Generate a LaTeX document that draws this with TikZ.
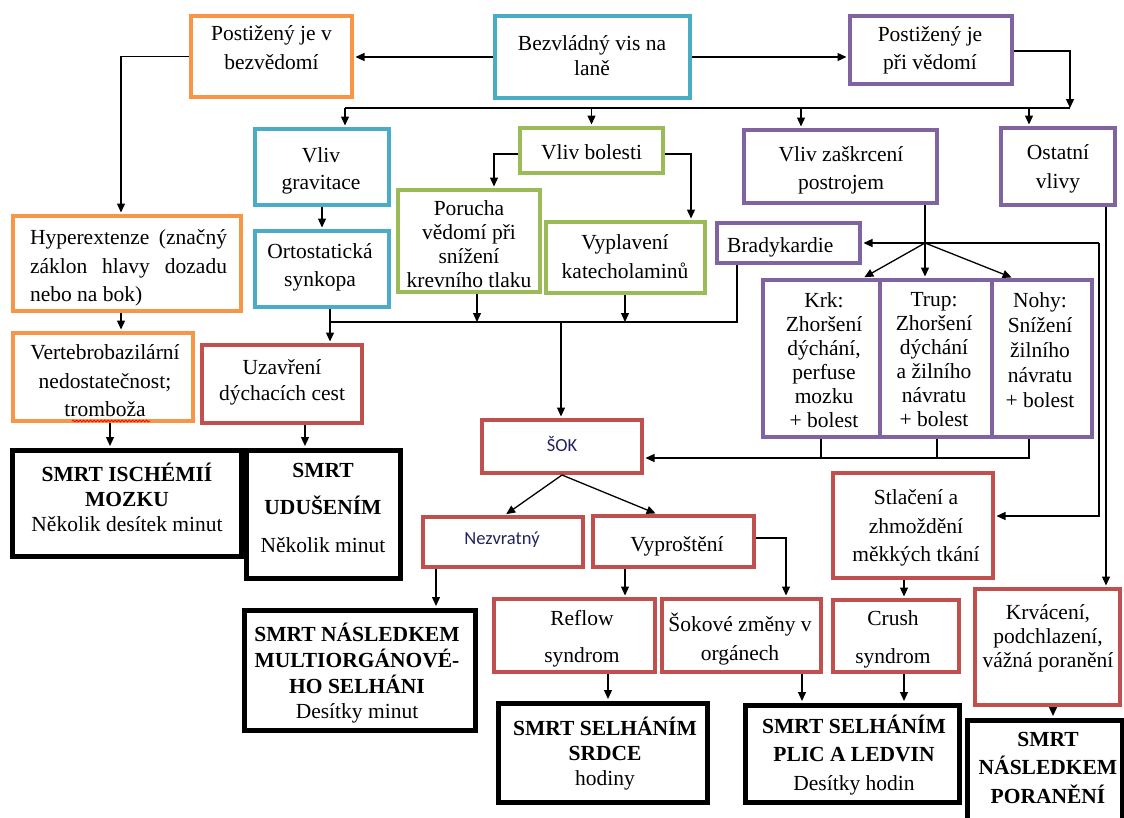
\documentclass[tikz,border=0pt]{standalone}
\usepackage{fontspec}
\setmainfont{Liberation Serif}
\newfontfamily\calfnt{Carlito}
\usetikzlibrary{arrows.meta,decorations.pathmorphing}
\definecolor{cOr}{HTML}{F79646}
\definecolor{cBl}{HTML}{4BACC6}
\definecolor{cPu}{HTML}{8064A2}
\definecolor{cGr}{HTML}{9BBB59}
\definecolor{cRd}{HTML}{C0504D}
\definecolor{cNv}{RGB}{35,35,95}
\newcommand\bx[6]{\node[#2,minimum width={#5-#3},minimum height={#6-#4}] (#1) at ({(#3+#5)/2},{(#4+#6)/2}) {};}
\newcommand\fs[1]{\fontsize{21.5}{#1}\selectfont}
\frenchspacing
\tikzset{
  box/.style={draw,line width=4pt,inner sep=0pt},
  bOr/.style={box,draw=cOr},
  bBl/.style={box,draw=cBl},
  bPu/.style={box,draw=cPu},
  bGr/.style={box,draw=cGr},
  bRd/.style={box,draw=cRd},
  bBk/.style={box,draw=black,line width=5pt},
  txt/.style={inner sep=0pt,align=center,yshift=-3.5pt,font={\fs{28}},execute at begin node=\strut,execute at end node=\strut},
  sans/.style={inner sep=0pt,font={\calfnt\fontsize{18.5}{22}\selectfont},text=cNv},
  ln/.style={line width=1.3pt},
  arr/.style={line width=1.3pt,-{Triangle[length=9pt,width=8pt]},shorten >=1.5pt},
  arr0/.style={line width=1.3pt,-{Triangle[length=9pt,width=8pt]}}
}
\begin{document}
\begin{tikzpicture}[x=1pt,y=-1pt]
\useasboundingbox (0,0) rectangle (1124,817);
\fill[white] (0,0) rectangle (1124,817);
% boxes
\bx{B1}{bOr}{191}{16}{352}{97}
\bx{B2}{bBl}{495}{16}{690}{98}
\bx{B3}{bPu}{850}{16}{1012}{84}
\bx{Grav}{bBl}{255}{129}{389}{205}
\bx{Bol}{bGr}{520}{128}{663}{173}
\bx{Zas}{bPu}{744}{130}{937}{203}
\bx{Ost}{bPu}{1001}{128}{1115}{205}
\bx{Hyp}{bOr}{13}{216}{241}{311}
\bx{Ort}{bBl}{255}{231}{389}{307}
\bx{Por}{bGr}{398}{190}{540}{292}
\bx{Vyp}{bGr}{546}{222}{705}{293}
\bx{Bra}{bPu}{717}{223}{860}{263}
\bx{Ver}{bOr}{13}{333}{193}{421}
\bx{Uza}{bRd}{202}{345}{362}{423}
\bx{Krk}{bPu}{763}{280}{880}{437}
\bx{Tru}{bPu}{880}{280}{992}{437}
\bx{Noh}{bPu}{992}{280}{1092}{437}
\bx{Isc}{bBk}{12}{450}{241}{556}
\bx{Udu}{bBk}{246}{450}{400}{578}
\bx{Sok}{bRd}{482}{420}{642}{473}
\bx{Nez}{bRd}{423}{517}{583}{567}
\bx{Vyr}{bRd}{593}{516}{754}{567}
\bx{Stl}{bRd}{833}{473}{993}{578}
\bx{Mul}{bBk}{244}{610}{475}{730}
\bx{Ref}{bRd}{494}{599}{655}{672}
\bx{Sokz}{bRd}{662}{599}{821}{672}
\bx{Cru}{bRd}{833}{600}{959}{672}
\bx{Krv}{bRd}{975}{589}{1120}{705}
\bx{Srd}{bBk}{498}{703}{707}{802}
\bx{Pli}{bBk}{745}{705}{959}{802}
\bx{Pnr}{bBk}{967}{720}{1122}{840}
% texts
\node[txt,font={\fs{29}}] (B1t) at (271.5,48) {Postižený je v\\bezvědomí};
\node[txt,font={\fs{25}}] (B2t) at (592,55.5) {Bezvládný vis na\\laně};
\node[txt] (B3t) at (930,49) {Postižený je\\při vědomí};
\node[txt,font={\fs{27}}] (Gravt) at (321,169.5) {Vliv\\gravitace};
\node[txt] (Bolt) at (591.5,150.5) {Vliv bolesti};
\node[txt] (Zast) at (841,169) {Vliv zaškrcení\\postrojem};
\node[txt,font={\fs{29}}] (Ostt) at (1058,167.5) {Ostatní\\vlivy};
\node[txt,font={\fs{28.5}}] (Hypt) at (128.5,266.5) {\makebox[197pt][s]{Hyperextenze (značný}\\\makebox[197pt][s]{záklon hlavy dozadu}\\\makebox[197pt][l]{nebo na bok)}};
\node[txt] (Ortt) at (320,266) {Ortostatická\\synkopa};
\node[txt,font={\fs{24}}] (Port) at (469,244) {Porucha\\vědomí při\\snížení\\krevního tlaku};
\node[txt,font={\fs{29}}] (Vypt) at (625,257.5) {Vyplavení\\katecholaminů};
\node[txt,anchor=west] (Brat) at (727,243) {Bradykardie};
\node[txt,font={\fs{28.5}}] (Vert) at (105,381.5) {Vertebrobazilární\\nedostatečnost;\\tromboža};
\node[txt,font={\fs{26}}] (Uzat) at (282,380) {Uzavření\\dýchacích cest};
\node[txt,font={\fs{24}}] (Krkt) at (824,360) {Krk:\\Zhoršení\\dýchání,\\perfuse\\mozku\\+ bolest};
\node[txt,font={\fs{24}}] (Trut) at (934,360) {Trup:\\Zhoršení\\dýchání\\a žilního\\návratu\\+ bolest};
\node[txt,font={\fs{25}}] (Noht) at (1040,350) {Nohy:\\Snížení\\žilního\\návratu\\+ bolest};
\node[txt,font={\fs{25}}] (Isct) at (127,498) {\textbf{SMRT ISCHÉMIÍ}\\\textbf{MOZKU}\\Několik desítek minut};
\node[txt,font={\fs{37.5}}] (Udut) at (323,509.5) {\textbf{SMRT}\\\textbf{UDUŠENÍM}\\Několik minut};
\node[sans] (Sokt) at (562,444) {ŠOK};
\node[sans] (Nezt) at (502,540) {Nezvratný};
\node[txt] (Vyrt) at (677,542) {Vyproštění};
\node[txt,font={\fs{28.5}}] (Stlt) at (916,526.5) {Stlačení a\\zhmoždění\\měkkých tkání};
\node[txt,font={\fs{25.7}}] (Mult) at (357,671.5) {\textbf{SMRT NÁSLEDKEM}\\\textbf{MULTIORGÁNOVÉ-}\\\textbf{HO SELHÁNI}\\Desítky minut};
\node[txt,font={\fs{37}}] (Reft) at (582,638.5) {Reflow\\syndrom};
\node[txt,font={\fs{29}}] (Sokzt) at (740,637.5) {Šokové změny v\\orgánech};
\node[txt,font={\fs{38}}] (Crut) at (893,639) {Crush\\syndrom};
\node[txt,font={\fs{24}}] (Krvt) at (1048,636) {Krvácení,\\podchlazení,\\vážná poranění};
\node[txt,font={\fs{25}}] (Srdt) at (605,752) {\textbf{SMRT SELHÁNÍM}\\\textbf{SRDCE}\\hodiny};
\node[txt,font={\fs{28.5}}] (Plit) at (854,753.5) {\textbf{SMRT SELHÁNÍM}\\\textbf{PLIC A LEDVIN}\\Desítky hodin};
\node[txt,font={\fs{28.5}}] (Pnrt) at (1048,768.5) {\textbf{SMRT}\\\textbf{NÁSLEDKEM}\\\textbf{PORANĚNÍ}};
% spell-check squiggle
\draw[red,line width=0.8pt,decorate,decoration={snake,amplitude=0.9pt,segment length=3.5pt}] (72,421) -- (150,421);
% connector coordinates
\coordinate (c1) at (121,57);
\coordinate (c2) at (1070,51);
\coordinate (c3) at (1070,108);
\coordinate (c4) at (345,108);
\coordinate (c5) at (801,108);
\coordinate (c6) at (1029,108);
\coordinate (c7) at (494,154);
\coordinate (c8) at (691,154);
\coordinate (c9) at (110,0);
\coordinate (c10) at (305,0);
\coordinate (j1) at (330,322);
\coordinate (j2) at (737,322);
\coordinate (j3) at (477,322);
\coordinate (j4) at (625,322);
\coordinate (j5) at (561,322);
\coordinate (j6) at (925,243);
\coordinate (j7) at (1099,243);
\coordinate (j8) at (1099,516);
\coordinate (k1) at (863,0);
\coordinate (k3) at (1013,0);
\coordinate (m1) at (821,458);
\coordinate (m2) at (937,458);
\coordinate (m3) at (1029,458);
\coordinate (n1) at (505,0);
\coordinate (n2) at (657,0);
\coordinate (n3) at (436,0);
\coordinate (n4) at (625,0);
\coordinate (n5) at (786,538);
\coordinate (n6) at (608,0);
\coordinate (n7) at (802,0);
\coordinate (n8) at (904,0);
\coordinate (n9) at (1106,0);
\coordinate (n10) at (1053,0);
% connectors
\draw[arr] (B2.west) -- (B2.west -| B1.east);
\draw[arr] (B2.east) -- (B2.east -| B3.west);
\draw[arr] (B1.west) -| (Hyp.north -| c1);
\draw[arr0] (B3.east |- c2) -- (c2) -- (c3);
\draw[ln] (c4) -- (c3);
\draw[arr] (c4) -- (Grav.north -| c4);
\draw[arr] (Bol.north |- c4) -- (Bol.north);
\draw[arr] (c5) -- (Zas.north -| c5);
\draw[arr] (c6) -- (Ost.north -| c6);
\draw[arr] (Bol.west |- c7) -- (c7) -- (Por.north -| c7);
\draw[arr] (Bol.east |- c8) -- (c8) -- (Vyp.north -| c8);
\draw[arr] (Grav.south) -- (Ort.north);
\draw[ln] (Ort.south -| j1) -- (j1) -- (j2) -- (Bra.south -| j2);
\draw[arr] (j1) -- (Uza.north -| j1);
\draw[arr0] (Por.south -| j3) -- (j3);
\draw[arr0] (Vyp.south -| j4) -- (j4);
\draw[arr] (j5) -- (Sok.north -| j5);
\draw[arr] (Hyp.south -| c1) -- (Ver.north -| c1);
\draw[arr] (Ver.south -| c9) -- (Isc.north -| c9);
\draw[arr] (Uza.south -| c10) -- (Udu.north -| c10);
\draw[ln] (Zas.south -| j6) -- (j6);
\draw[arr] (j6) -- (Tru.north -| j6);
\draw[arr] (j6) -- (Krk.north -| k1);
\draw[arr] (j6) -- (Noh.north -| k3);
\draw[arr] (j7) -- (Bra.east |- j7);
\draw[arr] (j7) -- (j8) -- (Stl.east |- j8);
\draw[ln] (Krk.south -| m1) -- (m1);
\draw[ln] (Tru.south -| m2) -- (m2);
\draw[arr] (Noh.south -| m3) -- (m3) -- (Sok.east |- m3);
\draw[arr] (Sok.south) -- (Nez.north -| n1);
\draw[arr] (Sok.south) -- (Vyr.north -| n2);
\draw[arr] (Nez.south -| n3) -- (Mul.north -| n3);
\draw[arr] (Vyr.south -| n4) -- (Ref.north -| n4);
\draw[arr] (Vyr.east |- n5) -- (n5) -- (Sokz.north -| n5);
\draw[arr] (Ref.south -| n6) -- (Srd.north -| n6);
\draw[arr] (Sokz.south -| n7) -- (Pli.north -| n7);
\draw[arr] (Cru.south -| n8) -- (Pli.north -| n8);
\draw[arr] (Stl.south -| n8) -- (Cru.north -| n8);
\draw[arr] (Ost.south -| n9) -- (Krv.north -| n9);
\draw[arr] (Krv.south -| n10) -- (Pnr.north -| n10);
\end{tikzpicture}
\end{document}
